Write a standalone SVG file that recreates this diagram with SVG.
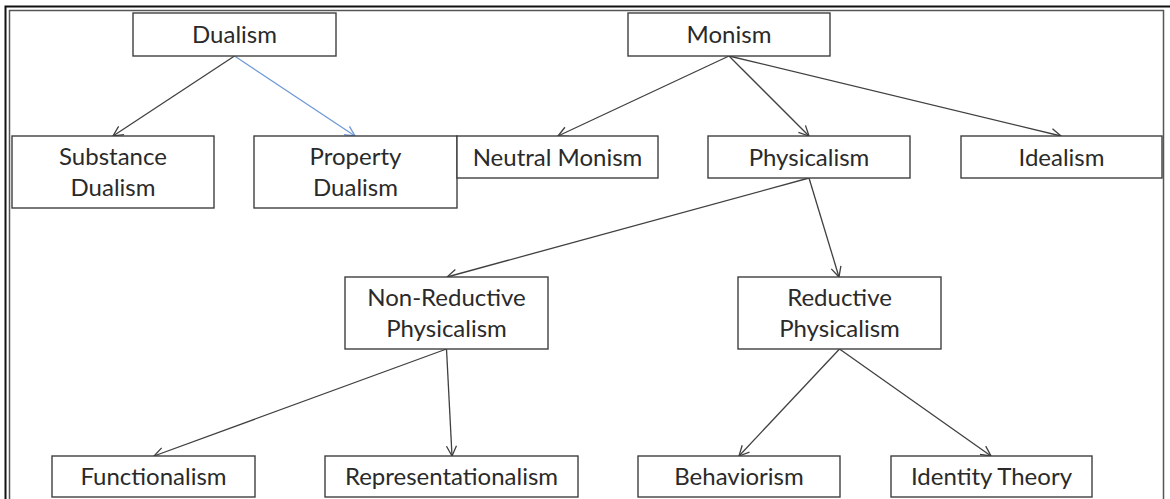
<svg xmlns="http://www.w3.org/2000/svg" width="1170" height="499" viewBox="0 0 1170 499">
  <style>
    .box { fill: #ffffff; stroke: #3f3f3f; stroke-width: 1.4; }
    .lbl { font-family: Lato, "Liberation Sans", sans-serif; font-size: 24px; fill: #2a2a2a; text-anchor: middle; }
    .edge { fill: none; stroke: #404040; stroke-width: 1.3; }
    .edge-blue { fill: none; stroke: #6f9ad6; stroke-width: 1.3; }
  </style>
  <defs>
    <marker id="arrow" viewBox="0 0 12 12" refX="11" refY="6" markerWidth="12" markerHeight="12" markerUnits="userSpaceOnUse" orient="auto">
      <path d="M1,1 L11,6 L1,11" fill="none" stroke="#404040" stroke-width="1.3"/>
    </marker>
    <marker id="arrow-blue" viewBox="0 0 12 12" refX="11" refY="6" markerWidth="12" markerHeight="12" markerUnits="userSpaceOnUse" orient="auto">
      <path d="M1,1 L11,6 L1,11" fill="none" stroke="#6f9ad6" stroke-width="1.3"/>
    </marker>
  </defs>

  <rect x="0" y="0" width="1170" height="499" fill="#ffffff"/>

  <!-- double page frame -->
  <g id="frame" fill="none">
    <path d="M5.5,499 V6.5 H1170" stroke="#111111" stroke-width="2"/>
    <path d="M9.5,499 V10.5 H1163.5 V499" stroke="#555555" stroke-width="1.5"/>
  </g>

  <!-- connectors -->
  <g id="connectors">
    <line class="edge" x1="234.5" y1="56" x2="113" y2="136" marker-end="url(#arrow)"/>
    <line class="edge-blue" x1="234.5" y1="56" x2="355" y2="136" marker-end="url(#arrow-blue)"/>
    <line class="edge" x1="729" y1="56" x2="558" y2="136" marker-end="url(#arrow)"/>
    <line class="edge" x1="729" y1="56" x2="809" y2="136" marker-end="url(#arrow)"/>
    <line class="edge" x1="729" y1="56" x2="1061" y2="136" marker-end="url(#arrow)"/>
    <line class="edge" x1="809" y1="178" x2="447" y2="277" marker-end="url(#arrow)"/>
    <line class="edge" x1="809" y1="178" x2="839" y2="277" marker-end="url(#arrow)"/>
    <line class="edge" x1="446.5" y1="349" x2="154" y2="456" marker-end="url(#arrow)"/>
    <line class="edge" x1="446.5" y1="349" x2="452" y2="456" marker-end="url(#arrow)"/>
    <line class="edge" x1="839.5" y1="349" x2="739" y2="456" marker-end="url(#arrow)"/>
    <line class="edge" x1="839.5" y1="349" x2="991" y2="456" marker-end="url(#arrow)"/>
  </g>

  <g id="dualism">
    <rect class="box" x="133" y="13" width="203" height="43"/>
    <text class="lbl" x="234.5" y="43">Dualism</text>
  </g>
  <g id="monism">
    <rect class="box" x="628" y="13" width="202" height="43"/>
    <text class="lbl" x="729" y="43">Monism</text>
  </g>
  <g id="substance-dualism">
    <rect class="box" x="12" y="136" width="202" height="72"/>
    <text class="lbl" x="113" y="165">Substance</text>
    <text class="lbl" x="113" y="196">Dualism</text>
  </g>
  <g id="property-dualism">
    <rect class="box" x="254" y="136" width="203" height="72"/>
    <text class="lbl" x="355.5" y="165">Property</text>
    <text class="lbl" x="355.5" y="196">Dualism</text>
  </g>
  <g id="neutral-monism">
    <rect class="box" x="457" y="136" width="201" height="42"/>
    <text class="lbl" x="557.5" y="165.5">Neutral Monism</text>
  </g>
  <g id="physicalism">
    <rect class="box" x="708" y="136" width="202" height="42"/>
    <text class="lbl" x="809" y="165.5">Physicalism</text>
  </g>
  <g id="idealism">
    <rect class="box" x="961" y="136" width="201" height="42"/>
    <text class="lbl" x="1061.5" y="165.5">Idealism</text>
  </g>
  <g id="non-reductive-physicalism">
    <rect class="box" x="345" y="277" width="203" height="72"/>
    <text class="lbl" x="446.5" y="306">Non-Reductive</text>
    <text class="lbl" x="446.5" y="337">Physicalism</text>
  </g>
  <g id="reductive-physicalism">
    <rect class="box" x="738" y="277" width="203" height="72"/>
    <text class="lbl" x="839.5" y="306">Reductive</text>
    <text class="lbl" x="839.5" y="337">Physicalism</text>
  </g>
  <g id="functionalism">
    <rect class="box" x="52" y="456" width="203" height="41"/>
    <text class="lbl" x="153.5" y="485">Functionalism</text>
  </g>
  <g id="representationalism">
    <rect class="box" x="325" y="456" width="253" height="41"/>
    <text class="lbl" x="451.5" y="485">Representationalism</text>
  </g>
  <g id="behaviorism">
    <rect class="box" x="638" y="456" width="202" height="41"/>
    <text class="lbl" x="739" y="485">Behaviorism</text>
  </g>
  <g id="identity-theory">
    <rect class="box" x="891" y="456" width="201" height="41"/>
    <text class="lbl" x="991.5" y="485">Identity Theory</text>
  </g>
</svg>
